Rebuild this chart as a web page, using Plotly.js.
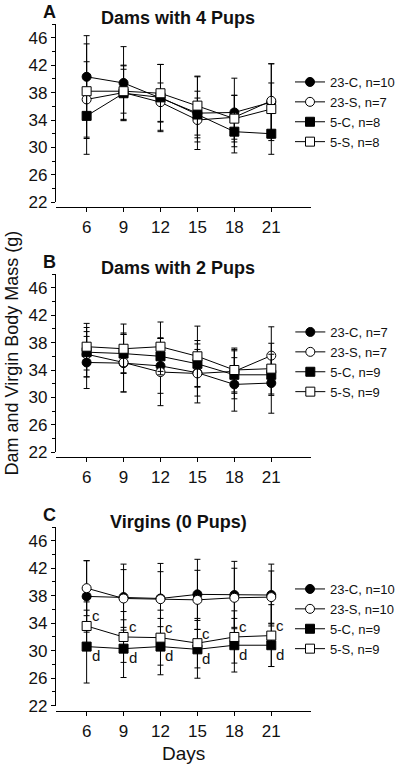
<!DOCTYPE html>
<html>
<head>
<meta charset="utf-8">
<script src="https://cdn.plot.ly/plotly-3.0.1.min.js"></script>
<style>html,body{margin:0;padding:0;background:#fff;}#chart{width:400px;height:764px;}</style>
</head>
<body>
<div id="chart"></div>
<script>
// ---- data ----
const days = [6, 9, 12, 15, 18, 21];
const seriesNames = ['23-C', '23-S', '5-C', '5-S'];
const panelTitles = ['Dams with 4 Pups', 'Dams with 2 Pups', 'Virgins (0 Pups)'];
const panelLetters = ['A', 'B', 'C'];
const nA = [10, 7, 8, 8];
const nB = [7, 7, 9, 9];
const nC = [10, 10, 9, 9];

// Panel A: Dams with 4 pups
const a23C = [40.3, 39.4, 37.2, 35.0, 35.1, 36.6];
const a23S = [37.0, 38.0, 36.6, 34.0, 34.4, 36.8];
const a5C  = [34.6, 37.9, 37.3, 34.8, 32.3, 32.0];
const a5S  = [38.2, 38.2, 37.9, 36.1, 34.2, 35.6];
const a23CErr = [6.0, 5.3, 4.9, 5.3, 5.0, 5.6];
const a23SErr = [5.5, 4.0, 2.8, 3.2, 3.2, 5.4];
const a5CErr  = [5.6, 4.0, 4.8, 3.4, 3.1, 3.0];
const a5SErr  = [6.9, 3.2, 4.2, 4.3, 3.4, 3.8];

// Panel B: Dams with 2 pups
const b23C = [35.1, 35.0, 34.6, 33.6, 31.9, 32.1];
const b23S = [36.3, 35.1, 33.7, 33.5, 33.8, 36.1];
const b5C  = [36.6, 36.4, 36.0, 34.9, 33.3, 33.3];
const b5S  = [37.4, 37.1, 37.4, 36.0, 34.0, 34.2];
const b23CErr = [3.8, 4.2, 4.0, 3.4, 3.9, 4.4];
const b23SErr = [3.3, 4.3, 4.9, 4.3, 3.2, 4.2];
const b5CErr  = [3.6, 2.8, 2.7, 3.4, 3.5, 3.0];
const b5SErr  = [3.4, 3.6, 3.6, 4.4, 3.2, 3.7];

// Panel C: Virgins
const c23C = [37.9, 37.8, 37.6, 38.2, 38.1, 38.1];
const c23S = [39.1, 37.6, 37.5, 37.4, 37.7, 37.8];
const c5C  = [30.6, 30.3, 30.6, 30.2, 30.8, 30.8];
const c5S  = [33.6, 32.0, 31.9, 31.1, 32.0, 32.2];
const c23CErr = [5.2, 4.8, 5.1, 5.1, 4.9, 4.5];
const c23SErr = [4.0, 4.2, 4.0, 4.3, 4.3, 3.8];
const c5CErr  = [5.3, 4.2, 4.1, 4.2, 3.9, 3.1];
const c5SErr  = [3.5, 3.7, 4.0, 3.6, 3.8, 4.5];

// significance letters (panel C)
const letterOnS = ['c', 'c', 'c', 'c', 'c', 'c'];
const letterOnC = ['d', 'd', 'd', 'd', 'd', 'd'];

const yMajorTicks = [22, 26, 30, 34, 38, 42, 46];

// ---- styles ----
const FONT = 'Liberation Sans, Arial, Helvetica, sans-serif';
const markerStyles = [
  {symbol: 'circle', color: '#000000'},
  {symbol: 'circle', color: '#ffffff'},
  {symbol: 'square', color: '#000000'},
  {symbol: 'square', color: '#ffffff'}
];

const panels = [
  {means: [a23C, a23S, a5C, a5S], errs: [a23CErr, a23SErr, a5CErr, a5SErr], n: nA},
  {means: [b23C, b23S, b5C, b5S], errs: [b23CErr, b23SErr, b5CErr, b5SErr], n: nB},
  {means: [c23C, c23S, c5C, c5S], errs: [c23CErr, c23SErr, c5CErr, c5SErr], n: nC}
];

const H = 764, W = 400;
const fy = px => 1 - px / H;
const fx = px => px / W;
// layout geometry per panel (pixel positions)
const geo = [
  {top: 24.0, bottom: 202.3, xline: 206.7, title: 18, letter: 12.5, legend: 112},
  {top: 274.0, bottom: 452.3, xline: 456.7, title: 268, letter: 262, legend: 362},
  {top: 527.0, bottom: 705.7, xline: 710.7, title: 521.5, letter: 515, legend: 619}
];
const xDomain = [fx(59), fx(325.7)];

const traces = [];
const layout = {
  width: W, height: H,
  margin: {l: 0, r: 0, t: 0, b: 0},
  paper_bgcolor: '#ffffff', plot_bgcolor: 'rgba(0,0,0,0)',
  font: {family: FONT, color: '#111111'},
  showlegend: true,
  annotations: []
};

panels.forEach((p, i) => {
  const k = i === 0 ? '' : String(i + 1);
  const xa = 'x' + k, ya = 'y' + k;
  const lg = 'legend' + k;
  p.means.forEach((m, s) => {
    traces.push({
      type: 'scatter', mode: 'lines+markers',
      x: days, y: m,
      xaxis: xa, yaxis: ya, legend: lg,
      name: seriesNames[s] + ', n=' + p.n[s],
      line: {color: '#000000', width: 1},
      marker: {symbol: markerStyles[s].symbol, size: 9, color: markerStyles[s].color,
               line: {color: '#000000', width: 1}},
      error_y: {type: 'data', array: p.errs[s], visible: true, color: '#000000', thickness: 1, width: 3},
      cliponaxis: false
    });
  });
  const g = geo[i];
  layout['xaxis' + k] = {
    domain: xDomain, anchor: 'free', position: fy(g.xline),
    range: [3.54, 24.23], tickmode: 'array', tickvals: days,
    ticks: 'outside', ticklen: 4, tickwidth: 1, tickcolor: '#000',
    showline: true, linecolor: '#000', linewidth: 1.5,
    showgrid: false, zeroline: false,
    tickfont: {size: 17, family: FONT, color: '#111'},
    title: i === 2 ? {text: 'Days', font: {size: 19, family: FONT, color: '#111'}, standoff: 7} : {text: ''}
  };
  layout['yaxis' + k] = {
    domain: [fy(g.bottom), fy(g.top)], anchor: xa,
    range: [22, 48], tickmode: 'array', tickvals: yMajorTicks,
    ticks: 'outside', ticklen: 4, tickwidth: 1, tickcolor: '#000',
    minor: {dtick: 2, tick0: 22, ticks: 'outside', ticklen: 3, tickwidth: 1, tickcolor: '#000', showgrid: false},
    showline: true, linecolor: '#000', linewidth: 1.5,
    showgrid: false, zeroline: false,
    tickfont: {size: 17, family: FONT, color: '#111'}
  };
  layout[lg] = {
    x: fx(304), xanchor: 'left', y: fy(g.legend), yanchor: 'middle',
    bgcolor: 'rgba(0,0,0,0)', borderwidth: 0,
    font: {size: 13, family: FONT, color: '#111'},
    tracegroupgap: 0, itemwidth: 30
  };
  layout.annotations.push({
    xref: 'paper', yref: 'paper', x: fx(186.5), y: fy(g.title), xanchor: 'center', yanchor: 'middle',
    text: '<b>' + panelTitles[i] + '</b>', showarrow: false,
    font: {size: 18, family: FONT, color: '#111'}
  });
  layout.annotations.push({
    xref: 'paper', yref: 'paper', x: fx(52), y: fy(g.letter), xanchor: 'center', yanchor: 'middle',
    text: '<b>' + panelLetters[i] + '</b>', showarrow: false,
    font: {size: 18, family: FONT, color: '#111'}
  });
});

// significance letters in panel C
days.forEach((d, j) => {
  layout.annotations.push({
    xref: 'x3', yref: 'y3', x: d, y: c5S[j], text: letterOnS[j], showarrow: false,
    xanchor: 'center', yanchor: 'middle', xshift: 9, yshift: 10,
    font: {size: 15, family: FONT, color: '#111'}
  });
  layout.annotations.push({
    xref: 'x3', yref: 'y3', x: d, y: c5C[j], text: letterOnC[j], showarrow: false,
    xanchor: 'center', yanchor: 'middle', xshift: 9, yshift: -9,
    font: {size: 15, family: FONT, color: '#111'}
  });
});

// shared y-axis title
layout.annotations.push({
  xref: 'paper', yref: 'paper', x: fx(13), y: fy(353), xanchor: 'center', yanchor: 'middle',
  text: 'Dam and Virgin Body Mass (g)', textangle: -90, showarrow: false,
  font: {size: 18, family: FONT, color: '#111'}
});

Plotly.newPlot('chart', traces, layout, {displayModeBar: false, staticPlot: true});
</script>
</body>
</html>
